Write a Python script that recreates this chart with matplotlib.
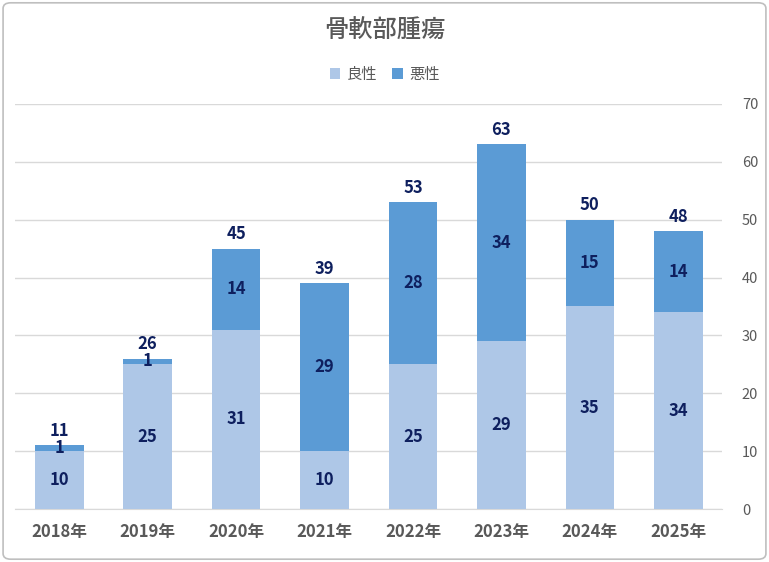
import matplotlib.pyplot as plt
import numpy as np
from matplotlib.patches import FancyBboxPatch

plt.rcParams['font.family'] = ['Noto Sans CJK JP', 'DejaVu Sans']

years = ['2018年', '2019年', '2020年', '2021年', '2022年', '2023年', '2024年', '2025年']
benign = [10, 25, 31, 10, 25, 29, 35, 34]
malignant = [1, 1, 14, 29, 28, 34, 15, 14]
totals = [b + m for b, m in zip(benign, malignant)]

c_light = '#AEC7E7'
c_dark = '#5B9BD5'
c_text = '#0E1F5E'
c_gray = '#595959'

fig = plt.figure(figsize=(7.69, 5.62), dpi=100)
ax = fig.add_axes([0.0195, 0.0943, 0.92, 0.7207])

x = np.arange(len(years))
w = 0.55
b1 = ax.bar(x, benign, w, color=c_light, label='良性', zorder=3)
b2 = ax.bar(x, malignant, w, bottom=benign, color=c_dark, label='悪性', zorder=3)

for bars, vals in [(b1, benign), (b2, malignant)]:
    for r, v in zip(bars, vals):
        ax.text(r.get_x() + r.get_width() / 2, r.get_y() + r.get_height() / 2, str(v),
                ha='center', va='center', fontsize=12, fontweight='bold', color=c_text, zorder=4)

for xi, t in zip(x, totals):
    ax.annotate(str(t), (xi, t), xytext=(0, 4), textcoords='offset points',
                ha='center', va='bottom', fontsize=12, fontweight='bold', color=c_text)

ax.set_xlim(-0.5, len(years) - 0.5)
ax.set_ylim(0, 70)
ax.set_yticks(range(0, 71, 10))
ax.yaxis.tick_right()
ax.tick_params(axis='y', length=0, pad=14, labelsize=10.5, labelcolor=c_gray)
ax.tick_params(axis='x', length=0, pad=10, labelsize=12, labelcolor=c_gray)
ax.set_xticks(x)
ax.set_xticklabels(years, fontweight='bold')
ax.grid(axis='y', color='#D9D9D9', linewidth=1, zorder=0)
for s in ['top', 'left', 'right']:
    ax.spines[s].set_visible(False)
ax.spines['bottom'].set_color('#D9D9D9')

fig.text(0.5, 0.945, '骨軟部腫瘍', ha='center', va='center', fontsize=17.5,
         fontweight='medium', color=c_gray)
fig.legend(loc='center', bbox_to_anchor=(0.5, 0.868), ncol=2, frameon=False,
           fontsize=11, handlelength=0.7, handleheight=0.7, columnspacing=1.0,
           handletextpad=0.4, labelcolor=c_gray)

fig.patches.append(FancyBboxPatch((0.004, 0.005), 0.992, 0.99, boxstyle='round,pad=0,rounding_size=0.01',
                                  transform=fig.transFigure, fill=False, edgecolor='#BFBFBF', linewidth=1.2))

fig.savefig('out.png', dpi=100)
